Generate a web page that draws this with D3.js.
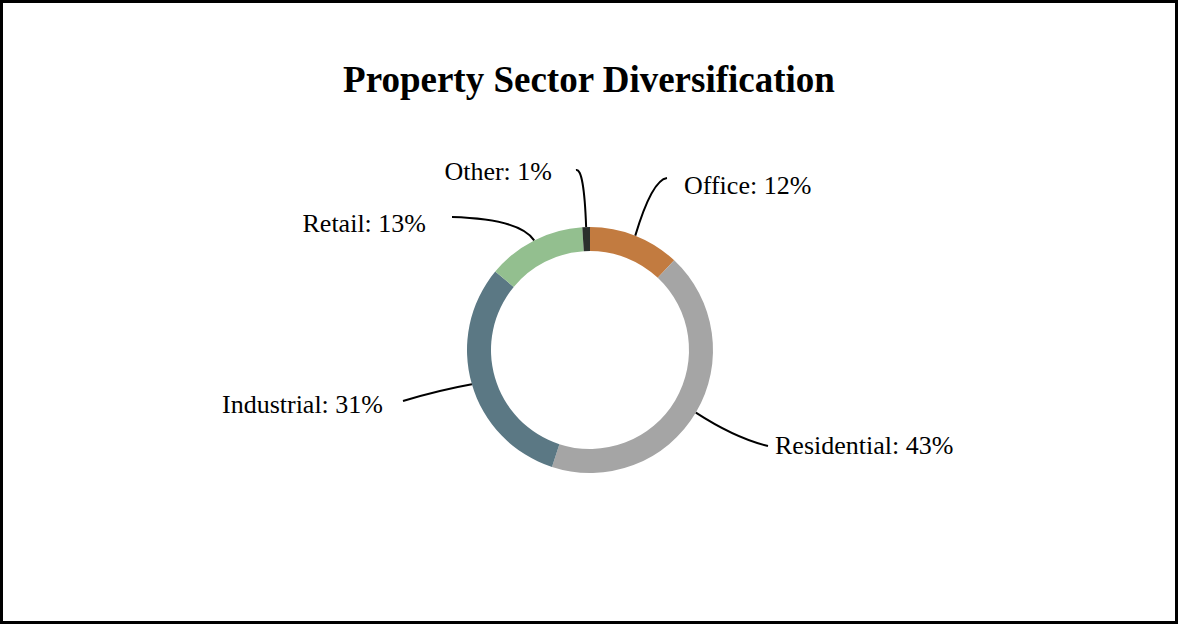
<!DOCTYPE html>
<html>
<head>
<meta charset="utf-8">
<script src="https://cdn.jsdelivr.net/npm/d3@7"></script>
<style>
  html, body { margin: 0; padding: 0; background: #fff; }
  svg { display: block; }
</style>
</head>
<body>
<svg id="chart" width="1178" height="624"></svg>
<script>
const categories = ["Office", "Residential", "Industrial", "Retail", "Other"];
const values = [12, 43, 31, 13, 1];
const colors = ["#C27B40", "#A5A5A5", "#5B7884", "#93BF8F", "#2B302D"];
const title = "Property Sector Diversification";

const W = 1178, H = 624;
const svg = d3.select("#chart");
const font = "'Liberation Serif', 'Times New Roman', serif";

svg.append("rect").attr("x", 1.5).attr("y", 1.5).attr("width", W - 3).attr("height", H - 3)
  .attr("fill", "#fff").attr("stroke", "#000").attr("stroke-width", 3);

svg.append("text").attr("x", 589).attr("y", 92).attr("text-anchor", "middle")
  .attr("font-family", font).attr("font-weight", "bold").attr("font-size", 37)
  .text(title);

const cx = 590, cy = 350, rOuter = 123, rInner = 99;
const pie = d3.pie().sort(null).value(d => d.value);
const data = categories.map((c, i) => ({ name: c, value: values[i], color: colors[i] }));
const arcs = pie(data);
const arc = d3.arc().innerRadius(rInner).outerRadius(rOuter);

const g = svg.append("g").attr("transform", `translate(${cx},${cy})`);
g.selectAll("path.slice").data(arcs).enter().append("path")
  .attr("class", "slice").attr("d", arc).attr("fill", d => d.data.color);

// label layout (relative to chart center): control point, end point, label anchor
const layout = {
  Office:      { c: [62, -170], e: [77, -172], t: [94, -156], anchor: "start" },
  Residential: { c: [145, 88],  e: [178, 96],  t: [185, 104], anchor: "start" },
  Industrial:  { c: [-150, 40], e: [-187, 51], t: [-207, 63], anchor: "end" },
  Retail:      { c: [-70, -131], e: [-138, -133], t: [-164, -118], anchor: "end" },
  Other:       { c: [-6, -182],  e: [-14, -180], t: [-38, -170], anchor: "end" }
};

arcs.forEach(d => {
  const mid = (d.startAngle + d.endAngle) / 2;
  const sx = rOuter * Math.sin(mid), sy = -rOuter * Math.cos(mid);
  const L = layout[d.data.name];
  g.append("path")
    .attr("d", `M${sx},${sy} Q${L.c[0]},${L.c[1]} ${L.e[0]},${L.e[1]}`)
    .attr("fill", "none").attr("stroke", "#000").attr("stroke-width", 2);
  g.append("text").attr("x", L.t[0]).attr("y", L.t[1])
    .attr("text-anchor", L.anchor)
    .attr("font-family", font).attr("font-size", 26)
    .text(`${d.data.name}: ${d.data.value}%`);
});
</script>
</body>
</html>
